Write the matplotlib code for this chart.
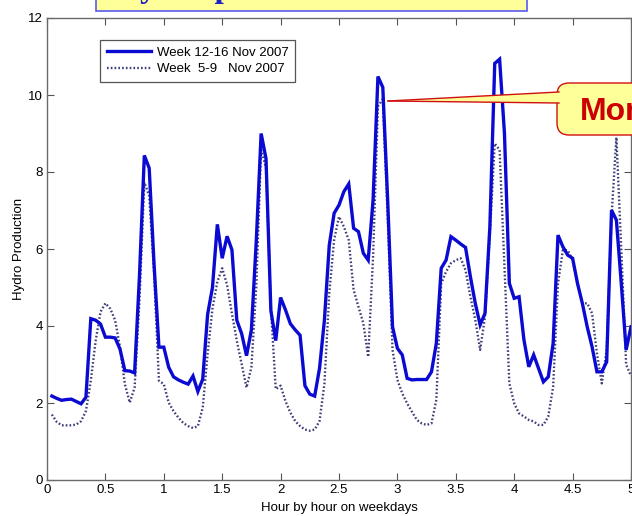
import numpy as np
import matplotlib
matplotlib.use("Agg")
import matplotlib.pyplot as plt
from matplotlib.patches import FancyBboxPatch, Polygon, Rectangle
from matplotlib.lines import Line2D

# ---------------- data ----------------
hours = np.arange(1, 121)  # hourly points over 5 weekdays
week_12_16 = [
    2.18, 2.12, 2.07, 2.09, 2.10, 2.04, 1.98, 2.15, 4.19, 4.15,
    4.05, 3.71, 3.71, 3.69, 3.40, 2.84, 2.83, 2.78, 5.30, 8.43,
    8.10, 5.60, 3.45, 3.45, 2.93, 2.68, 2.60, 2.54, 2.49, 2.70,
    2.30, 2.62, 4.30, 5.00, 6.64, 5.76, 6.33, 5.98, 4.15, 3.80,
    3.23, 3.90, 6.20, 9.00, 8.35, 4.40, 3.62, 4.74, 4.42, 4.06,
    3.90, 3.76, 2.45, 2.23, 2.18, 2.90, 4.15, 6.10, 6.93, 7.14,
    7.49, 7.69, 6.54, 6.45, 5.89, 5.71, 7.27, 10.48, 10.20, 7.27,
    3.98, 3.42, 3.25, 2.64, 2.60, 2.61, 2.61, 2.61, 2.81, 3.55,
    5.50, 5.71, 6.32, 6.23, 6.13, 6.04, 5.28, 4.59, 4.03, 4.33,
    6.58, 10.82, 10.93, 9.00, 5.11, 4.72, 4.76, 3.64, 2.94, 3.25,
    2.90, 2.55, 2.68, 3.55, 6.36, 6.06, 5.84, 5.76, 5.11, 4.59,
    3.98, 3.46, 2.81, 2.81, 3.07, 7.01, 6.75, 5.11, 3.38, 3.98,
]
week_5_9 = [
    1.70, 1.51, 1.42, 1.42, 1.42, 1.44, 1.53, 1.79, 2.58, 3.62,
    4.37, 4.59, 4.45, 4.15, 3.45, 2.49, 2.01, 2.40, 4.67, 7.73,
    7.38, 5.37, 2.58, 2.49, 2.01, 1.79, 1.62, 1.48, 1.40, 1.35,
    1.40, 1.88, 3.28, 4.45, 5.15, 5.50, 5.07, 4.32, 3.62, 3.01,
    2.40, 2.93, 5.02, 8.60, 8.10, 4.50, 2.36, 2.45, 2.05, 1.75,
    1.53, 1.40, 1.31, 1.28, 1.31, 1.53, 2.49, 4.85, 6.24, 6.84,
    6.58, 6.23, 4.94, 4.50, 4.07, 3.20, 5.80, 9.70, 9.90, 6.84,
    3.38, 2.60, 2.25, 1.99, 1.77, 1.56, 1.47, 1.43, 1.47, 2.08,
    5.10, 5.41, 5.63, 5.71, 5.76, 5.45, 4.76, 4.16, 3.38, 4.24,
    6.40, 8.74, 8.57, 5.54, 2.51, 1.99, 1.73, 1.65, 1.56, 1.52,
    1.43, 1.43, 1.65, 2.42, 5.10, 5.97, 5.97, 5.71, 5.11, 4.59,
    4.59, 4.33, 3.29, 2.51, 3.38, 6.84, 8.90, 6.00, 3.00, 2.70,
]
x_ticks = [0, 0.5, 1, 1.5, 2, 2.5, 3, 3.5, 4, 4.5, 5]
x_tick_labels = ["0", "0.5", "1", "1.5", "2", "2.5", "3", "3.5", "4", "4.5", "5"]
y_ticks = [0, 2, 4, 6, 8, 10, 12]
legend_labels = ["Week 12-16 Nov 2007", "Week  5-9   Nov 2007"]
title_text = "Hydro production increased"
callout_text = "Monday"

plt.rcParams['font.family'] = ['Liberation Sans', 'DejaVu Sans']

W, H = 632, 516
fig = plt.figure(figsize=(W / 100, H / 100), dpi=100)
fig.patch.set_facecolor('white')

ax = fig.add_axes([47 / W, 36 / H, 584 / W, 462 / H])
x = hours / 24.0
ax.plot(x, week_12_16, color='#0a0ad2', lw=2.4, solid_joinstyle='miter', zorder=3,
        label=legend_labels[0])
ax.plot(x, week_5_9, color='#3c3c78', lw=1.7, linestyle=(0, (0.7, 0.9)), zorder=2,
        label=legend_labels[1])
ax.set_xlim(0, 5)
ax.set_ylim(0, 12)
ax.set_xticks(x_ticks)
ax.set_xticklabels(x_tick_labels)
ax.set_yticks(y_ticks)
ax.tick_params(direction='in', length=5, width=0.8, top=True, right=True,
               labelsize=9.5, colors='#555555', labelcolor='black', pad=3)
for s in ax.spines.values():
    s.set_color('#6a6a6a')
    s.set_linewidth(1.0)
ax.set_xlabel("Hour by hour on weekdays", fontsize=9.5, labelpad=4)
ax.set_ylabel("Hydro Production", fontsize=9.5, labelpad=2)

leg = ax.legend(loc='upper left', bbox_to_anchor=(0.0906, 0.952), fontsize=9.5,
                frameon=True, fancybox=False, edgecolor='#555555', framealpha=1,
                handlelength=3.4, handletextpad=0.4, borderpad=0.5,
                labelspacing=0.3, borderaxespad=0)
leg.get_frame().set_linewidth(0.9)

# ---------------- annotations (pixel-based, origin top-left) ----------------
T = fig.dpi_scale_trans
def pin(px, py):
    return (px / 100.0, (H - py) / 100.0)

# title box at top (mostly cropped)
x0, y0 = pin(96, 11)
fig.patches.append(Rectangle((x0, y0), (527 - 96) / 100.0, 0.5, transform=T,
                             facecolor='#ffff99', edgecolor='#5a5af0', lw=1.2, zorder=5))
tx, ty = pin(114, -3.3)
fig.text(tx, ty, title_text, transform=T, fontsize=24, fontweight='bold',
         family='Liberation Serif', color='#2020c0', va='baseline', ha='left', zorder=6)

# callout box
bx, by = pin(557, 135)
fig.patches.append(FancyBboxPatch((bx, by), 2.0, (135 - 83) / 100.0,
                                  boxstyle='round,pad=0,rounding_size=0.12', transform=T,
                                  facecolor='#ffff99', edgecolor='#d01010', lw=1.0, zorder=7))
tip = pin(388, 101)
b1 = pin(559, 92)
b2 = pin(559, 103)
fig.patches.append(Polygon([tip, b1, b2], closed=True, transform=T,
                           facecolor='#ffff99', edgecolor='none', zorder=8))
fig.lines.append(Line2D([tip[0], b1[0]], [tip[1], b1[1]], transform=T,
                        color='#d01010', lw=1.0, zorder=9))
fig.lines.append(Line2D([tip[0], b2[0]], [tip[1], b2[1]], transform=T,
                        color='#d01010', lw=1.0, zorder=9))
cx, cy = pin(580, 120)
fig.text(cx, cy, callout_text, transform=T, fontsize=23, fontweight='bold',
         color='#cc0000', va='baseline', ha='left', zorder=10)

fig.savefig('out.png', dpi=100)
